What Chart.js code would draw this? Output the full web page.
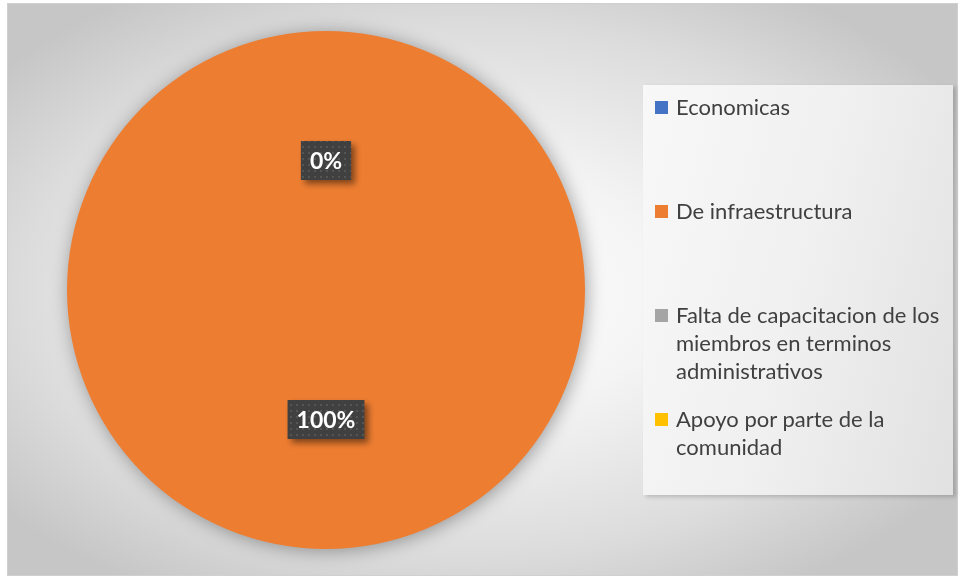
<!DOCTYPE html>
<html>
<head>
<meta charset="utf-8">
<script src="https://cdn.jsdelivr.net/npm/chart.js@4.4.1/dist/chart.umd.min.js"></script>
<style>
    html, body { margin: 0; padding: 0; background: #ffffff; }
    #wrap { position: relative; width: 959px; height: 577px; overflow: hidden; }
    #frame {
        position: absolute; left: 7px; top: 3px; width: 949px; height: 571px;
        border: 1px solid #d0d0d0;
        background: radial-gradient(ellipse 62% 62% at 48% 50%, #ffffff 0%, #f4f4f4 35%, #dcdcdc 75%, #c6c6c6 100%);
    }
    #chart { position: absolute; left: 0; top: 0; }
    #legend {
        position: absolute; left: 643px; top: 85px; width: 310px; height: 410px;
        background: linear-gradient(105deg, #f8f8f8 0%, #f0f0f0 50%, #e1e1e1 100%);
        box-shadow: 3px 2px 4px rgba(0, 0, 0, 0.18);
        font-family: Lato, 'Noto Sans', sans-serif;
        font-size: 22px; line-height: 28px; color: #404040;
    }
    .item { position: absolute; left: 12px; width: 298px; }
    .item .box { position: absolute; left: 0; top: 8px; width: 13px; height: 13px; }
    .item .txt { margin-left: 21px; }
</style>
</head>
<body>
<div id="wrap">
    <div id="frame"></div>
    <canvas id="chart" width="959" height="577"></canvas>
    <div id="legend"></div>
</div>
<script>
const categories = ['Economicas', 'De infraestructura', 'Falta de capacitacion de los miembros en terminos administrativos', 'Apoyo por parte de la comunidad'];
const values = [0, 100, 0, 0];
const colors = ['#4472C4', '#ED7D31', '#A5A5A5', '#FFC000'];

// Legend (fixed slots like the original)
const legend = document.getElementById('legend');
categories.forEach((c, i) => {
    const item = document.createElement('div');
    item.className = 'item';
    item.style.top = (8 + i * 104) + 'px';
    item.innerHTML = `<span class="box" style="background:${colors[i]}"></span><div class="txt">${c}</div>`;
    legend.appendChild(item);
});

// Dotted dark pattern for the label boxes
function makePattern(ctx) {
    const p = document.createElement('canvas');
    p.width = 6; p.height = 6;
    const pc = p.getContext('2d');
    pc.fillStyle = '#404040';
    pc.fillRect(0, 0, 6, 6);
    pc.fillStyle = '#555555';
    pc.fillRect(2, 2, 2, 2);
    return ctx.createPattern(p, 'repeat');
}

const pieShadow = {
    id: 'pieShadow',
    beforeDatasetsDraw(chart) {
        const ctx = chart.ctx;
        ctx.save();
        ctx.shadowColor = 'rgba(0, 0, 0, 0.35)';
        ctx.shadowBlur = 18;
        ctx.shadowOffsetX = 2;
        ctx.shadowOffsetY = 2;
    },
    afterDatasetsDraw(chart) {
        chart.ctx.restore();
    }
};

const pctLabels = {
    id: 'pctLabels',
    afterDraw(chart) {
        const ctx = chart.ctx;
        const meta = chart.getDatasetMeta(0);
        const data = chart.data.datasets[0].data;
        const total = data.reduce((a, b) => a + b, 0);
        const seen = {};
        ctx.save();
        ctx.font = 'bold 23px Lato, "Noto Sans", sans-serif';
        ctx.textAlign = 'center';
        ctx.textBaseline = 'middle';
        meta.data.forEach((arc, i) => {
            const pt = arc.getCenterPoint();
            const key = Math.round(pt.x) + ',' + Math.round(pt.y);
            if (seen[key]) return;
            seen[key] = true;
            const text = Math.round(data[i] / total * 100) + '%';
            const w = ctx.measureText(text).width + 18;
            const h = 39;
            const x = pt.x - w / 2, y = pt.y - h / 2;
            ctx.save();
            ctx.shadowColor = 'rgba(0, 0, 0, 0.45)';
            ctx.shadowBlur = 6;
            ctx.shadowOffsetX = 4;
            ctx.shadowOffsetY = 4;
            ctx.fillStyle = makePattern(ctx);
            ctx.fillRect(x, y, w, h);
            ctx.restore();
            ctx.fillStyle = '#ffffff';
            ctx.fillText(text, pt.x, pt.y + 1);
        });
        ctx.restore();
    }
};

new Chart(document.getElementById('chart'), {
    type: 'pie',
    data: {
        labels: categories,
        datasets: [{
            data: values,
            backgroundColor: colors,
            borderWidth: 0
        }]
    },
    options: {
        responsive: false,
        animation: false,
        layout: { padding: { left: 67, top: 31, right: 374, bottom: 28 } },
        plugins: {
            legend: { display: false },
            tooltip: { enabled: false }
        }
    },
    plugins: [pieShadow, pctLabels]
});
</script>
</body>
</html>
